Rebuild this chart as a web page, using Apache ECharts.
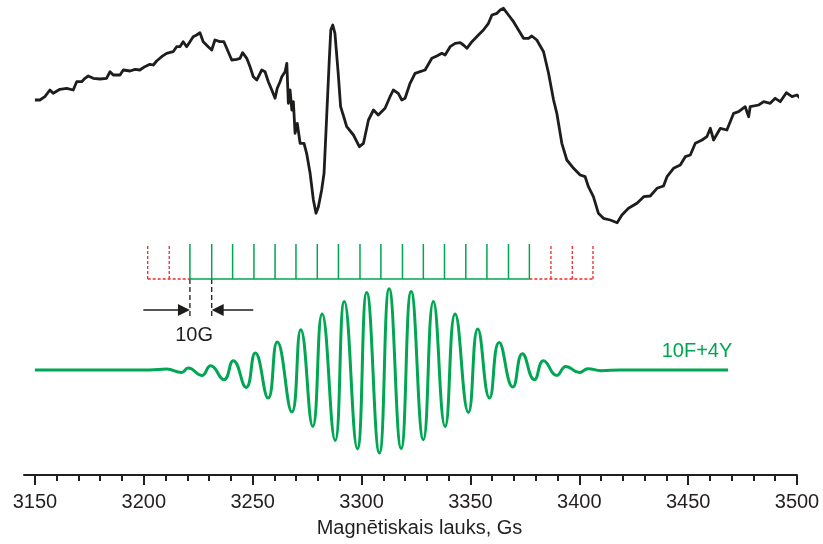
<!DOCTYPE html>
<html><head><meta charset="utf-8">
<script src="https://cdn.jsdelivr.net/npm/echarts@6/dist/echarts.min.js"></script>
<style>html,body{margin:0;padding:0;background:#fff}#c{width:823px;height:544px}</style>
</head><body><div id="c"></div>
<script>
// ---------- DATA ----------
// Experimental EPR spectrum (field, Gs / intensity, arb. units)
const expField = [3150.0,3152.3,3154.6,3156.9,3158.4,3161.5,3164.6,3167.6,3169.2,3171.5,
3173.0,3174.5,3176.8,3179.9,3182.9,3184.5,3186.0,3189.1,3190.6,3193.7,
3196.0,3198.2,3200.5,3202.8,3204.4,3205.9,3208.2,3210.5,3213.5,3215.1,
3216.6,3218.1,3219.7,3221.2,3222.7,3224.3,3225.8,3227.3,3229.6,3231.2,
3232.7,3235.0,3236.8,3238.1,3240.4,3242.7,3244.2,3245.4,3247.3,3248.8,
3250.3,3251.9,3254.2,3255.7,3257.2,3258.8,3260.3,3261.3,3262.6,3263.4,
3264.9,3265.7,3266.4,3267.2,3268.0,3268.7,3269.5,3270.5,3271.8,3273.6,
3274.8,3276.4,3277.9,3279.1,3280.2,3281.7,3282.8,3284.0,3285.2,3285.9,
3286.8,3287.8,3289.3,3290.4,3291.6,3293.2,3296.3,3299.0,3300.9,3303.2,
3305.5,3307.7,3310.8,3313.1,3314.6,3316.9,3318.5,3320.0,3322.3,3324.6,
3326.9,3329.2,3332.3,3334.6,3336.9,3338.4,3340.7,3343.0,3345.3,3346.8,
3348.4,3350.7,3353.7,3356.0,3358.3,3359.9,3362.2,3363.7,3365.2,3367.5,
3369.8,3372.1,3374.4,3376.7,3378.2,3380.5,3383.6,3385.9,3388.2,3389.7,
3392.0,3394.3,3397.4,3400.4,3402.7,3404.2,3406.5,3408.8,3411.1,3414.2,
3417.4,3419.6,3422.6,3426.5,3429.6,3432.6,3435.7,3438.7,3440.3,3443.3,
3446.4,3448.7,3451.0,3453.3,3456.4,3458.6,3460.2,3461.7,3464.8,3467.8,
3470.9,3473.2,3476.2,3477.8,3478.5,3482.4,3484.7,3487.7,3490.0,3492.3,
3495.1,3497.7,3500.0,3502.3];
const expIntensity = [15,15,18.3,25,21.7,25.7,26.7,25,33.3,33.3,
36.7,39,36.7,36,36.7,43.3,40,40,45,44,
45.7,45,48.3,50.7,50,54,58.3,61.7,63.3,68.3,
68.3,73.3,68.3,73.3,78.3,80,82.3,73.3,68.3,65,
75,73.3,73.3,66.7,55,55.7,56.7,62.3,56.7,48.3,
38.3,35,45,43.3,33.3,25,16.7,26.7,33.3,38.3,
43.3,51.7,11.7,25,5,13.3,-18.3,-8.3,-28.3,-28.3,
-38.3,-58.3,-85,-98.3,-91.7,-75,-58.3,-1.7,55,85,
90,81.7,41.7,8.3,0,-11.7,-20,-31.7,-28.3,-5,
5,0,6.7,18.3,25,21.7,15,16.7,31.7,41.7,
43.3,45,56.7,59,61.7,60,68.3,71.7,72.3,70,
66.7,73.3,80,85,91.7,100,101.7,105,106.7,100,
93.3,85,76.7,76.7,79,75,63.3,41.7,15,1.7,
-28.3,-45,-53.3,-60,-61.7,-71.7,-81.7,-98.3,-103.3,-105,
-107.7,-100,-93.3,-88.3,-81.7,-81,-73.3,-71,-61.7,-53.3,
-50,-41.7,-40,-28.3,-25,-21.7,-13.3,-25,-13.3,-15,
1.7,3.3,8.3,-1.7,8.3,10,13.3,11.7,16.7,13.3,
22.3,18.3,20,15];

// Simulated spectrum 10F+4Y (flat ends and extrema)
const simField = [3150,3202.8,3210.5,3217.4,3220.4,3226.6,3230.7,3236.8,3241.1,3247.0,
3251.2,3257.1,3261.3,3268.0,3272.1,3277.6,3281.9,3287.9,3292.1,3298.1,
3302.4,3308.2,3312.7,3318.2,3322.8,3328.4,3333.0,3338.4,3343.0,3349.1,
3353.4,3358.8,3363.2,3369.5,3373.9,3379.4,3383.6,3389.7,3393.9,3400.1,
3404.0,3410.1,3418.8,3468.3];
const simIntensity = [0,0,0.9,-2.4,2,-5.4,4.3,-9.7,9.3,-17.4,
17,-28,28,-42,40.3,-56.4,56,-70.4,68.6,-78.7,
77.6,-83,81.3,-78.4,78.6,-69.7,68.6,-56.4,56,-42.4,
41,-28,27.6,-17,16.3,-9.7,9.3,-5.4,3.6,-2.4,
1.3,-0.7,0,0];

// Stick diagram line positions (Gs)
const greenSticks = [3221.2,3231.2,3240.8,3250.6,3260.3,3269.9,3279.7,3289.4,3299.3,3308.9,
3318.8,3328.4,3338.1,3347.9,3357.6,3367.5,3377.1];
const redSticksLeft = [3201.8,3211.7];
const redSticksRight = [3387.0,3396.8,3406.3];

// Axis ticks
const majorTicks = [3150,3200,3250,3300,3350,3400,3450,3500];
const minorTicks = [3160,3170,3180,3190,3210,3220,3230,3240,3260,3270,3280,3290,3310,3320,3330,3340,
3360,3370,3380,3390,3410,3420,3430,3440,3460,3470,3480,3490];

// Texts
const xAxisName = 'Magnētiskais lauks, Gs';
const spacingLabel = '10G';
const simLabel = '10F+4Y';
const arrowTails = [3199.8, 3250.3];
const spacingLabelField = 3223.1;
const simLabelPos = [3470.3, 18.3];

// ---------- LAYOUT / STYLE ----------
const FONT = '"Liberation Sans", Arial, Helvetica, sans-serif';
const BLACK = '#1d1d1b';
const GREEN = '#00a651';
const RED = '#ee2a2a';
const STICK_BASE = 61, STICK_TOP = 96, ARROW_LEVEL = 30, DASH_END = 23, LABEL_LEVEL = 5;
const X_MIN = 3145, X_MAX = 3500;
const gridPos = {left: 24, right: 26};

const chart = echarts.init(document.getElementById('c'), null, {renderer: 'canvas'});

const hiddenX = (g) => ({type: 'value', gridIndex: g, min: X_MIN, max: X_MAX, show: false, axisLine: {onZero: false}});

const option = {
  animation: false,
  backgroundColor: '#fff',
  grid: [
    Object.assign({top: 0, height: 230, outerBoundsMode: 'none'}, gridPos),
    Object.assign({top: 230, height: 110, outerBoundsMode: 'none'}, gridPos),
    Object.assign({top: 265, height: 210, outerBoundsMode: 'none'}, gridPos)
  ],
  xAxis: [
    hiddenX(0),
    hiddenX(1),
    {
      type: 'value', gridIndex: 2, min: X_MIN, max: X_MAX, position: 'bottom',
      axisLine: {show: true, onZero: false, lineStyle: {color: '#231f20', width: 2}},
      axisTick: {show: true, customValues: majorTicks, length: 10, lineStyle: {color: '#231f20', width: 2}},
      axisLabel: {show: true, customValues: majorTicks, fontSize: 20, fontFamily: FONT, color: '#231f20', margin: 17,
        formatter: (v) => String(v)},
      splitLine: {show: false},
      name: xAxisName, nameLocation: 'middle', nameGap: 43,
      nameTextStyle: {fontSize: 20, fontFamily: FONT, color: '#231f20', padding: [0, 0, 0, 18]}
    },
    {
      type: 'value', gridIndex: 2, min: X_MIN, max: X_MAX, position: 'bottom',
      axisLine: {show: false, onZero: false},
      axisTick: {show: true, customValues: minorTicks, length: 6, lineStyle: {color: '#231f20', width: 2}},
      axisLabel: {show: false},
      splitLine: {show: false}
    }
  ],
  yAxis: [
    {type: 'value', gridIndex: 0, min: -115, max: 115, show: false},
    {type: 'value', gridIndex: 1, min: 0, max: 110, show: false},
    {type: 'value', gridIndex: 2, min: -105, max: 105, show: false}
  ],
  series: [
    {
      type: 'line', xAxisIndex: 0, yAxisIndex: 0, showSymbol: false, clip: false,
      data: expField.map((f, i) => [f, expIntensity[i]]),
      lineStyle: {color: BLACK, width: 2.8, join: 'round'}
    },
    {
      type: 'line', xAxisIndex: 2, yAxisIndex: 2, showSymbol: false, smooth: 0.5,
      data: simField.map((f, i) => [f, simIntensity[i]]),
      lineStyle: {color: GREEN, width: 3}
    },
    {
      type: 'line', xAxisIndex: 1, yAxisIndex: 1, showSymbol: false,
      data: [[greenSticks[0], STICK_BASE], [greenSticks[greenSticks.length - 1], STICK_BASE]],
      lineStyle: {color: GREEN, width: 1.5}
    },
    {
      type: 'line', xAxisIndex: 1, yAxisIndex: 1, showSymbol: false,
      data: [[redSticksLeft[0], STICK_BASE], [greenSticks[0], STICK_BASE]],
      lineStyle: {color: RED, width: 1.3, type: [3, 2]}
    },
    {
      type: 'line', xAxisIndex: 1, yAxisIndex: 1, showSymbol: false,
      data: [[greenSticks[greenSticks.length - 1], STICK_BASE], [redSticksRight[redSticksRight.length - 1], STICK_BASE]],
      lineStyle: {color: RED, width: 1.3, type: [3, 2]}
    },
    {
      type: 'custom', xAxisIndex: 1, yAxisIndex: 1,
      data: greenSticks.map(v => [v, 0]).concat(redSticksLeft.map(v => [v, 1]), redSticksRight.map(v => [v, 1])),
      renderItem: function (params, api) {
        const x = api.value(0);
        const red = api.value(1) === 1;
        const p0 = api.coord([x, STICK_BASE]);
        const p1 = api.coord([x, STICK_TOP]);
        return {
          type: 'line',
          shape: {x1: p0[0], y1: p0[1], x2: p1[0], y2: p1[1]},
          style: {stroke: red ? RED : GREEN, lineWidth: red ? 1.3 : 1.5, lineDash: red ? [3, 2] : null}
        };
      }
    },
    {
      type: 'custom', xAxisIndex: 1, yAxisIndex: 1,
      data: [[greenSticks[0], greenSticks[1]]],
      renderItem: function (params, api) {
        const a = api.value(0), b = api.value(1);
        const children = [];
        [a, b].forEach(g => {
          const p0 = api.coord([g, STICK_BASE]);
          const p1 = api.coord([g, DASH_END]);
          children.push({type: 'line', shape: {x1: p0[0], y1: p0[1], x2: p1[0], y2: p1[1]},
            style: {stroke: BLACK, lineWidth: 1.3, lineDash: [5, 3]}});
        });
        [[arrowTails[0], a, 1], [arrowTails[1], b, -1]].forEach(([tail, tip, d]) => {
          const pt = api.coord([tail, ARROW_LEVEL]);
          const pp = api.coord([tip, ARROW_LEVEL]);
          children.push({type: 'line', shape: {x1: pt[0], y1: pt[1], x2: pp[0] - d * 10, y2: pp[1]},
            style: {stroke: BLACK, lineWidth: 1.5}});
          children.push({type: 'polygon', shape: {points: [[pp[0], pp[1]], [pp[0] - d * 12, pp[1] - 6], [pp[0] - d * 12, pp[1] + 6]]},
            style: {fill: BLACK}});
        });
        const pl = api.coord([spacingLabelField, LABEL_LEVEL]);
        children.push({type: 'text', x: pl[0], y: pl[1],
          style: {text: spacingLabel, fill: '#231f20', fontSize: 20, fontFamily: FONT, align: 'center', verticalAlign: 'middle'}});
        return {type: 'group', children: children};
      }
    },
    {
      type: 'custom', xAxisIndex: 2, yAxisIndex: 2,
      data: [simLabelPos],
      renderItem: function (params, api) {
        const p = api.coord([api.value(0), api.value(1)]);
        return {type: 'text', x: p[0], y: p[1],
          style: {text: simLabel, fill: GREEN, fontSize: 20, fontFamily: FONT, align: 'right', verticalAlign: 'middle'}};
      }
    }
  ]
};
chart.setOption(option);
</script>
</body></html>
